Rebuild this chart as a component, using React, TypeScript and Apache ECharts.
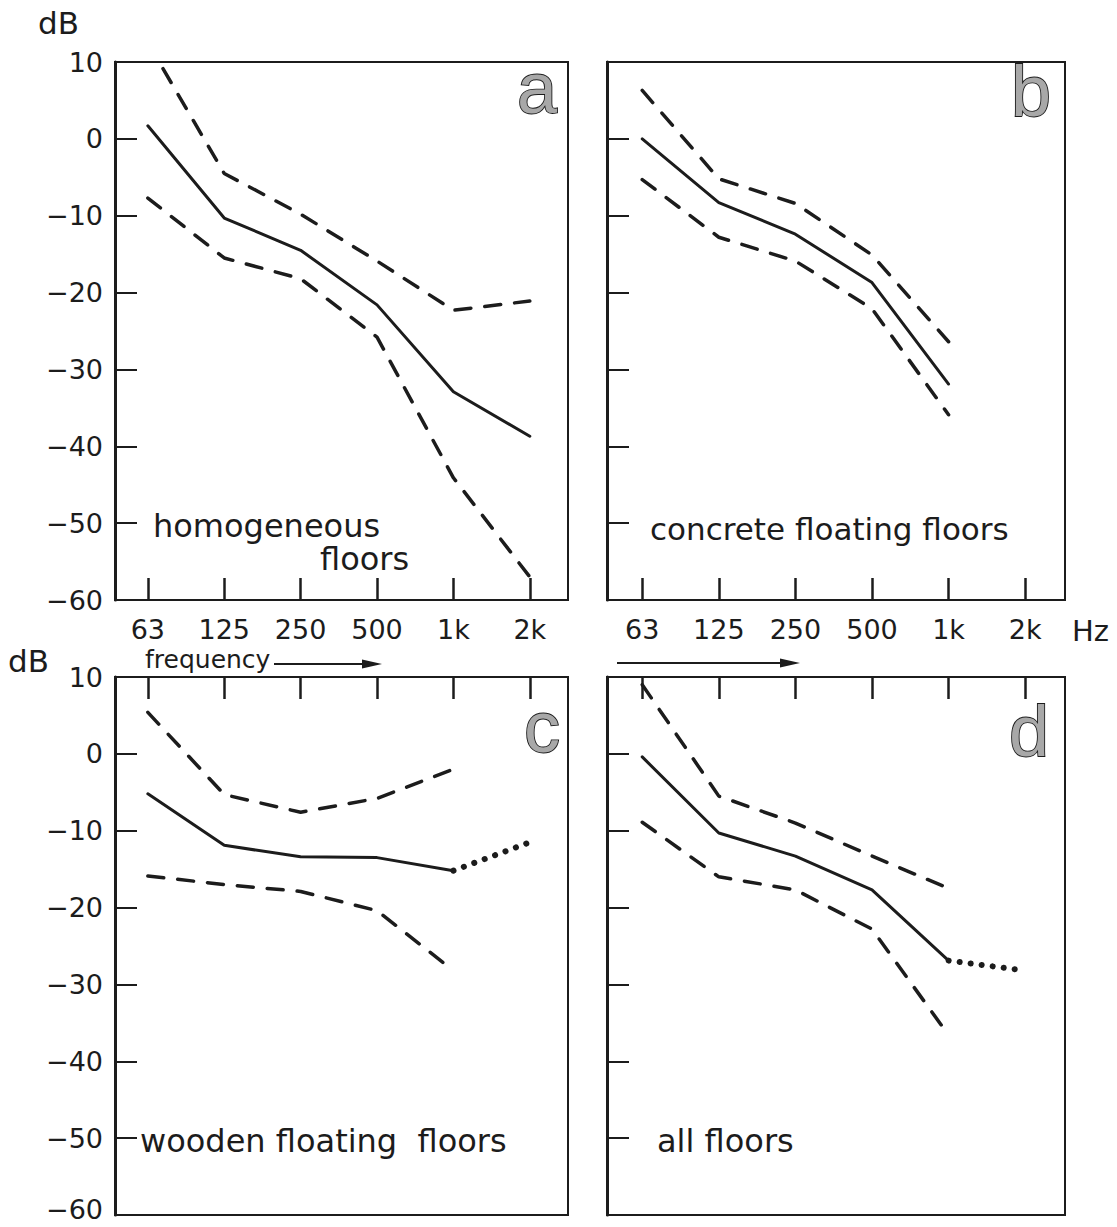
import React, { useEffect, useRef } from "react";
import * as echarts from "echarts";

const freqLabels = ["63", "125", "250", "500", "1k", "2k"];
const tickIdx = [0, 1, 2, 3, 4, 5];

// panel a: homogeneous floors
const aUpper = [12.5, -4.5, -9.8, -15.9, -22.3, -21.1];
const aMid = [1.7, -10.3, -14.5, -21.6, -32.9, -38.7];
const aLower = [-7.7, -15.5, -18.2, -25.8, -44.1, -57];
// panel b: concrete floating floors
const bUpper = [6.3, -5.2, -8.4, -15.1, -26.4];
const bMid = [0, -8.3, -12.4, -18.7, -31.9];
const bLower = [-5.3, -12.8, -15.9, -22.1, -35.9];
// panel c: wooden floating floors
const cUpper = [5.4, -5.3, -7.6, -5.8, -2.0];
const cMid = [-5.2, -11.9, -13.4, -13.5, -15.2];
const cMidDotted = [-15.2, -11.5]; // 1k -> 2k
const cLower = [-15.9, -17.0, -17.9, -20.4, -28.2];
// panel d: all floors
const dUpper = [9, -5.5, -9.0, -13.3, -17.5];
const dMid = [-0.4, -10.3, -13.3, -17.7, -26.9];
const dMidDotted = [-26.9, -28.2]; // 1k -> 2k
const dLower = [-8.9, -16.0, -17.7, -22.8, -36.6];

const ink = "#1c1c1c";
const font = "'DejaVu Sans', Verdana, sans-serif";
const letterFont = "'Liberation Sans', Arial, Helvetica, sans-serif";

const pts = (arr: number[], offset = 0) => arr.map((v, i) => [i + offset, v]);
const dbFmt = (v: number) => (v < 0 ? "\u2212" + -v : String(v));

export default function App() {
  const ref = useRef<HTMLDivElement>(null);
  useEffect(() => {
    if (!ref.current) return;
    const chart = echarts.init(ref.current, undefined, { renderer: "svg" });
    const grids = [
      { left: 115, top: 62, width: 453, height: 538 },
      { left: 607, top: 62, width: 458, height: 538 },
      { left: 115, top: 677, width: 453, height: 538 },
      { left: 607, top: 677, width: 458, height: 538 },
    ];
    const xRange = [
      [-0.43, 5.5],
      [-0.46, 5.52],
      [-0.43, 5.5],
      [-0.46, 5.52],
    ];
    const xAxis = grids.map((_, i) => ({
      type: "value",
      gridIndex: i,
      min: xRange[i][0],
      max: xRange[i][1],
      position: i < 2 ? "bottom" : "top",
      axisLine: { show: true, onZero: false, lineStyle: { color: ink, width: 2 } },
      splitLine: { show: false },
      axisTick: {
        show: true,
        inside: true,
        length: 22,
        customValues: tickIdx,
        lineStyle: { color: ink, width: 2.5 },
      },
      axisLabel: {
        show: i < 2,
        customValues: tickIdx,
        formatter: (v: number) => freqLabels[Math.round(v)] ?? "",
        margin: 16,
        fontSize: 27,
        color: ink,
        fontFamily: font,
      },
    }));
    const yAxis = grids.map((_, i) => ({
      type: "value",
      gridIndex: i,
      min: -60,
      max: 10,
      interval: 10,
      axisLine: { show: true, onZero: false, lineStyle: { color: ink, width: 3 } },
      splitLine: { show: false },
      axisTick: { show: true, inside: true, length: 22, lineStyle: { color: ink, width: 2 } },
      axisLabel: {
        show: i % 2 === 0,
        // the bottom "−60" of the lower panel is drawn as graphic text so it stays on the page
        formatter: (v: number) => (i === 2 && v === -60 ? "" : dbFmt(v)),
        margin: 12,
        fontSize: 27,
        color: ink,
        fontFamily: font,
      },
    }));
    const dashed = { color: ink, width: 3.5, type: [16, 14], cap: "round" };
    const solid = { color: ink, width: 3, type: "solid", cap: "round" };
    const dotted = { color: ink, width: 6, type: [0.1, 11], cap: "round" };
    const mk = (data: number[][], i: number, ls: any) => ({
      type: "line",
      xAxisIndex: i,
      yAxisIndex: i,
      data,
      symbol: "none",
      lineStyle: ls,
      clip: true,
      silent: true,
    });
    const series = [
      mk(pts(aUpper), 0, dashed),
      mk(pts(aMid), 0, solid),
      mk(pts(aLower), 0, dashed),
      mk(pts(bUpper), 1, dashed),
      mk(pts(bMid), 1, solid),
      mk(pts(bLower), 1, dashed),
      mk(pts(cUpper), 2, dashed),
      mk(pts(cMid), 2, solid),
      mk(pts(cMidDotted, 4), 2, dotted),
      mk(pts(cLower), 2, dashed),
      mk(pts(dUpper), 3, dashed),
      mk(pts(dMid), 3, solid),
      mk(pts(dMidDotted, 4), 3, dotted),
      mk(pts(dLower), 3, dashed),
    ];
    const txt = (text: string, x: number, y: number, size: number, extra: any = {}) => ({
      type: "text",
      x,
      y,
      silent: true,
      style: {
        text,
        fill: ink,
        fontSize: size,
        fontFamily: font,
        verticalAlign: "middle",
        align: "left",
        ...extra,
      },
    });
    const letter = (t: string, x: number, y: number) =>
      txt(t, x, y, 72, { align: "right", fontFamily: letterFont, fill: "#a8a8a8", stroke: ink, lineWidth: 1.8 });
    const arrow = (x1: number, x2: number, y: number) => [
      { type: "line", silent: true, shape: { x1, y1: y, x2: x2 - 14, y2: y }, style: { stroke: ink, lineWidth: 2 } },
      {
        type: "polygon",
        silent: true,
        shape: { points: [[x2 - 20, y - 4.5], [x2, y], [x2 - 20, y + 4.5]] },
        style: { fill: ink },
      },
    ];
    const graphic = [
      txt("dB", 38, 23, 31),
      txt("dB", 8, 661, 31),
      txt("Hz", 1072, 631, 29),
      txt("frequency", 145, 659, 25),
      txt(dbFmt(-60), 103, 1209, 27, { align: "right" }),
      ...arrow(274, 382, 664),
      ...arrow(617, 800, 663),
      letter("a", 557, 88),
      letter("b", 1051, 91),
      letter("c", 560, 727),
      letter("d", 1049, 731),
      txt("homogeneous", 153, 526, 32),
      txt("floors", 320, 559, 32),
      txt("concrete floating floors", 650, 529, 31),
      txt("wooden floating  floors", 140, 1141, 32),
      txt("all floors", 657, 1141, 32),
    ];
    chart.setOption({
      animation: false,
      backgroundColor: "#ffffff",
      grid: grids.map((g) => ({ ...g, show: true, borderColor: ink, borderWidth: 2, backgroundColor: "transparent" })),
      xAxis,
      yAxis,
      series,
      graphic,
    });
    return () => chart.dispose();
  }, []);
  return (
    <div
      ref={ref}
      style={{ position: "absolute", left: 0, top: 0, width: 1117, height: 1227, background: "#fff" }}
    />
  );
}
